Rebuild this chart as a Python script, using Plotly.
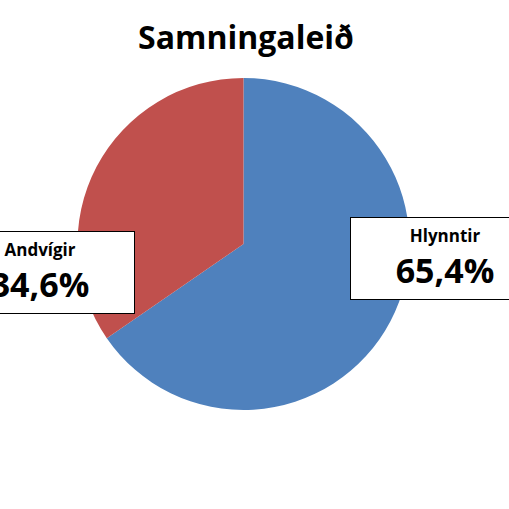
import plotly.graph_objects as go

# data
labels = ["Hlynntir", "Andvígir"]
values = [65.4, 34.6]
value_text = ["65,4%", "34,6%"]
colors = ["#4F81BD", "#C0504D"]

W = H = 509

fig = go.Figure()
fig.add_trace(go.Pie(
    labels=labels, values=values,
    marker=dict(colors=colors, line=dict(width=0)),
    sort=False, direction="clockwise", rotation=0,
    textinfo="none", hoverinfo="label+percent",
    showlegend=False,
    domain=dict(x=[77.5 / W, 409.5 / W], y=[(H - 410) / H, (H - 78) / H]),
))

# label boxes (Excel style callouts, partly cut off at the edges)
box_pos = [(445, 258), (40, 272.5)]
for lab, txt, (cx, cy) in zip(labels, value_text, box_pos):
    fig.add_annotation(
        xref="paper", yref="paper", x=cx / W, y=1 - cy / H,
        xanchor="center", yanchor="middle",
        text=(f"<b><span style='font-size:17px'>{lab}</span></b><br>"
              f"<b><span style='font-size:34px'>{txt}</span></b>"),
        font=dict(family="Open Sans", size=31.5, color="black"),
        showarrow=False, align="center", valign="middle",
        width=186, height=79,
        bgcolor="white", bordercolor="black", borderwidth=1, borderpad=1,
    )

fig.update_layout(
    width=W, height=H,
    margin=dict(l=0, r=0, t=0, b=0),
    paper_bgcolor="white", plot_bgcolor="white",
    title=dict(text="<b>Samningaleið</b>", x=246 / W, xanchor="center",
               y=1 - 38 / H, yanchor="middle",
               font=dict(family="Open Sans", size=32, color="black")),
)

fig.write_html("out.html", config={"displayModeBar": False},
               post_script="document.body.style.margin='0';")
